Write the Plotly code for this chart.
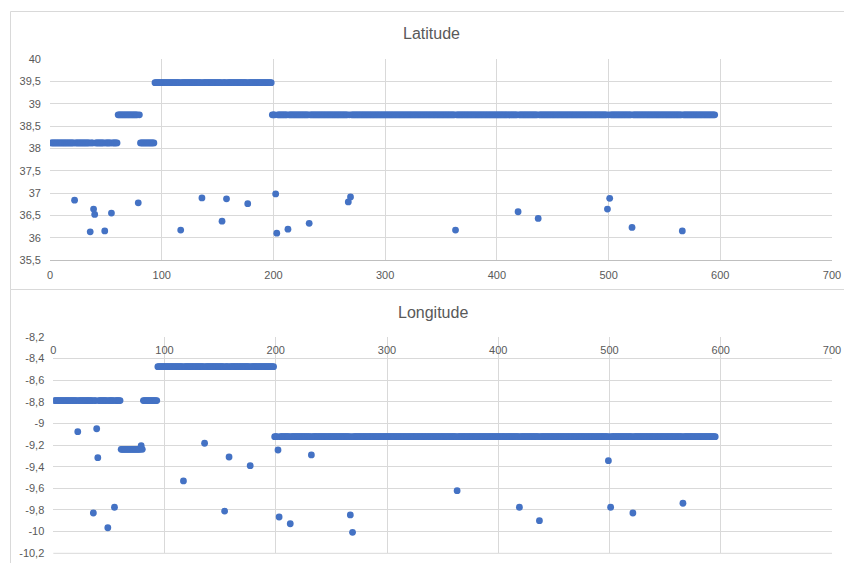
import plotly.graph_objects as go

# ---------------- data ----------------
# constant runs of the dense series (first index, last index, value)
run_first = [1, 61, 81, 94, 199]
run_last = [60, 80, 93, 198, 595]
run_lat = [38.12, 38.75, 38.12, 39.47, 38.75]
run_lon = [-8.79, -9.24, -8.79, -8.477, -9.123]

# isolated points (index, latitude, longitude)
out_idx = [22, 36, 39, 40, 49, 55, 79, 117, 136, 154, 158, 177, 202, 203,
           213, 232, 267, 269, 363, 419, 437, 499, 501, 521, 566]
out_lat = [36.84, 36.13, 36.64, 36.52, 36.15, 36.55, 36.78, 36.17, 36.89,
           36.37, 36.87, 36.76, 36.98, 36.10, 36.19, 36.32, 36.80, 36.91,
           36.17, 36.58, 36.43, 36.64, 36.88, 36.23, 36.15]
out_lon = [-9.077, -9.828, -9.05, -9.317, -9.964, -9.775, -9.206, -9.532,
           -9.184, -9.81, -9.311, -9.391, -9.246, -9.865, -9.927, -9.292,
           -9.846, -10.006, -9.622, -9.775, -9.899, -9.345, -9.775, -9.828,
           -9.738]

x_tick_vals = [0, 100, 200, 300, 400, 500, 600, 700]
x_tick_text = ["0", "100", "200", "300", "400", "500", "600", "700"]
lat_tick_vals = [35.5, 36, 36.5, 37, 37.5, 38, 38.5, 39, 39.5, 40]
lat_tick_text = ["35,5", "36", "36,5", "37", "37,5", "38", "38,5", "39", "39,5", "40"]
lon_tick_vals = [-10.2, -10, -9.8, -9.6, -9.4, -9.2, -9, -8.8, -8.6, -8.4, -8.2]
lon_tick_text = ["-10,2", "-10", "-9,8", "-9,6", "-9,4", "-9,2", "-9", "-8,8",
                 "-8,6", "-8,4", "-8,2"]

# expand runs + isolated points into per-index series
idx, lat, lon = [], [], []
outs = {i: (a, o) for i, a, o in zip(out_idx, out_lat, out_lon)}
for f, l, va, vo in zip(run_first, run_last, run_lat, run_lon):
    for i in range(f, l + 1):
        idx.append(i)
        if i in outs:
            lat.append(outs[i][0]); lon.append(outs[i][1])
        else:
            lat.append(va); lon.append(vo)

# ---------------- figure ----------------
W, H = 844, 563
BLUE = "#4472C4"
GRID = "#D9D9D9"
TXT = "#595959"
FONT = "Liberation Sans"

def px_x(p):
    return p / W

def px_y(p):
    return (H - p) / H

fig = go.Figure()
fig.add_trace(go.Scatter(x=idx, y=lat, mode="markers", xaxis="x", yaxis="y",
                         marker=dict(color=BLUE, size=6.8, line=dict(width=0)),
                         showlegend=False, hoverinfo="x+y"))
fig.add_trace(go.Scatter(x=idx, y=lon, mode="markers", xaxis="x2", yaxis="y2",
                         marker=dict(color=BLUE, size=6.8, line=dict(width=0)),
                         showlegend=False, hoverinfo="x+y"))

tickfont = dict(family=FONT, size=11, color=TXT)
common_x = dict(range=[0, 700], tickvals=x_tick_vals, ticktext=x_tick_text,
                showgrid=True, gridcolor=GRID, gridwidth=1, zeroline=False,
                ticks="", tickfont=tickfont, linecolor="#BFBFBF",
                linewidth=1, fixedrange=True, automargin=False,
                side="bottom", ticklabelstandoff=5)
common_y = dict(showgrid=True, gridcolor=GRID, gridwidth=1, zeroline=False,
                ticks="", tickfont=tickfont, showline=False, fixedrange=True,
                ticklabelstandoff=8, automargin=False)

fig.update_layout(
    width=W, height=H,
    margin=dict(l=0, r=0, t=0, b=0, pad=0, autoexpand=False),
    paper_bgcolor="white", plot_bgcolor="white",
    font=dict(family=FONT, color=TXT),
    separators=", ",
    xaxis=dict(domain=[px_x(50), px_x(832)], anchor="y", showline=True, **common_x),
    yaxis=dict(domain=[px_y(260), px_y(59)], anchor="x", range=[35.5, 40],
               tickvals=lat_tick_vals, ticktext=lat_tick_text, **common_y),
    # horizontal axis crosses at the top (-8,2), labels hang below it
    xaxis2=dict(domain=[px_x(53.3), px_x(832)], anchor="free", showline=False,
                position=px_y(336.7), **common_x),
    yaxis2=dict(domain=[px_y(553.3), px_y(336.7)], anchor="x2", range=[-10.2, -8.2],
                tickvals=lon_tick_vals, ticktext=lon_tick_text, **common_y),
    annotations=[
        dict(text="Latitude", x=px_x(432), y=px_y(33), xref="paper", yref="paper",
             showarrow=False, xanchor="center", yanchor="middle",
             font=dict(family=FONT, size=16, color=TXT)),
        dict(text="Longitude", x=px_x(432.5), y=px_y(312), xref="paper", yref="paper",
             showarrow=False, xanchor="center", yanchor="middle",
             font=dict(family=FONT, size=16, color=TXT)),
    ],
    shapes=[
        dict(type="rect", xref="paper", yref="paper", x0=px_x(10.5), x1=1.05,
             y0=px_y(289.5), y1=px_y(11.5), line=dict(color=GRID, width=1),
             layer="below"),
        dict(type="line", xref="paper", yref="paper", x0=px_x(10.5), x1=px_x(10.5),
             y0=px_y(289.5), y1=-0.05, line=dict(color=GRID, width=1),
             layer="below"),
        # bottom grid line of the longitude plot area
        dict(type="line", xref="x2 domain", yref="y2 domain", x0=0, x1=1,
             y0=0, y1=0, line=dict(color=GRID, width=1), layer="below"),
    ],
)

fig.write_html(
    "out.html",
    config={"displayModeBar": False, "staticPlot": True},
    post_script="document.body.style.margin='0';document.body.style.overflow='hidden';",
)
